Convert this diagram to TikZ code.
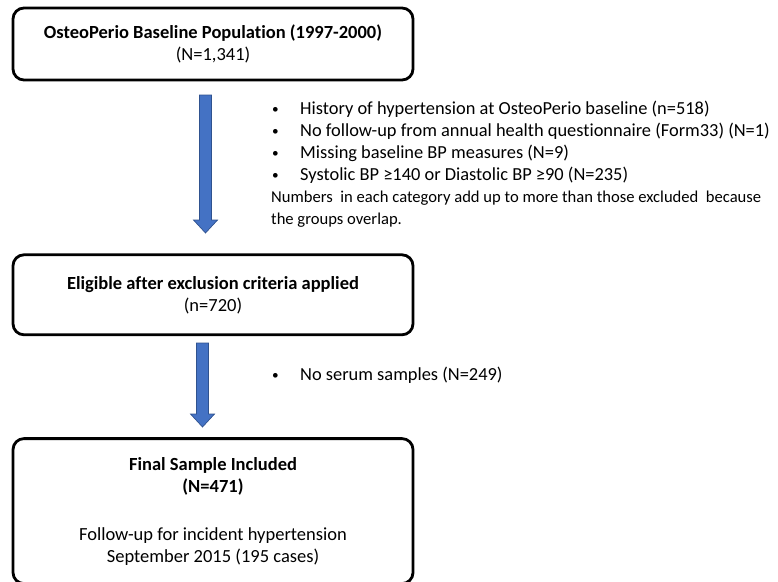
\documentclass[tikz,border=0pt]{standalone}
\usepackage{fontspec}
\setmainfont{Carlito}[Ligatures=NoCommon]
\usetikzlibrary{arrows.meta,positioning,calc}
\definecolor{arrowblue}{HTML}{4472C4}
\definecolor{arrowedge}{HTML}{2F528F}
\tikzset{
  % Base styles
  flow base/.style={
    x=1pt, y=-1pt,
    every node/.style={font=\fontsize{18.5}{22}\selectfont},
  },
  % Stage boxes
  stage box/.style={rectangle, draw, line width=2.8pt, rounded corners=11pt,
    minimum width=400pt, align=center, inner sep=0pt},
  % Exclusion notes
  excl text/.style={align=left, anchor=north west, inner sep=0pt,
    font=\fontsize{18.4}{21.9}\selectfont},
  % Blue block arrows
  block arrow/.style={fill=arrowblue, draw=arrowedge, line width=0.7pt},
}
\newcommand{\bul}{\makebox[29pt][l]{\hspace{1pt}\raisebox{1.2pt}{\scalebox{0.72}{\textbullet}}}}

\begin{document}
\begin{tikzpicture}[flow base]
\useasboundingbox (0,0) rectangle (778,581);

% Stage boxes
\node[stage box, minimum height=72pt] (base) at (213,44)
  {\textbf{OsteoPerio Baseline Population (1997-2000)}\\(N=1,341)};
\node[stage box, minimum height=80pt, below=172pt of base] (elig)
  {\textbf{Eligible after exclusion criteria applied}\\(n=720)};
\node[stage box, minimum height=145pt, below=101pt of elig] (final)
  {\textbf{Final Sample Included}\\\textbf{(N=471)}\\[26pt]
   Follow-up for incident hypertension\\September 2015 (195 cases)};

% Arrow end points
\coordinate (a1top) at (205.5,95);
\coordinate (a1tip) at (205.5,233);
\coordinate (a2top) at (202.5,343);
\coordinate (a2tip) at (202.5,427);

% Block arrows
\filldraw[block arrow] ($(a1top)+(-6,0)$) -- ($(a1top)+(6,0)$) -- ($(a1tip)+(6,-13)$)
  -- ($(a1tip)+(12,-13)$) -- (a1tip) -- ($(a1tip)+(-12,-13)$) -- ($(a1tip)+(-6,-13)$) -- cycle;
\filldraw[block arrow] ($(a2top)+(-6,0)$) -- ($(a2top)+(6,0)$) -- ($(a2tip)+(6,-13)$)
  -- ($(a2tip)+(12,-13)$) -- (a2tip) -- ($(a2tip)+(-12,-13)$) -- ($(a2tip)+(-6,-13)$) -- cycle;

% Exclusions
\node[excl text] (excl1) at (271,101)
  {\bul History of hypertension at OsteoPerio baseline (n=518)\\
   \bul No follow-up from annual health questionnaire (Form33) (N=1)\\
   \bul Missing baseline BP measures (N=9)\\
   \bul Systolic BP ≥140 or Diastolic BP ≥90 (N=235)\\
   {\fontsize{16.6}{21.9}\selectfont Numbers\ \ in each category add up to more than those excluded\ \ because}\\
   {\fontsize{16.6}{21.9}\selectfont the groups overlap.}};
\node[excl text] (excl2) at (271,367)
  {\bul No serum samples (N=249)};
\end{tikzpicture}
\end{document}
